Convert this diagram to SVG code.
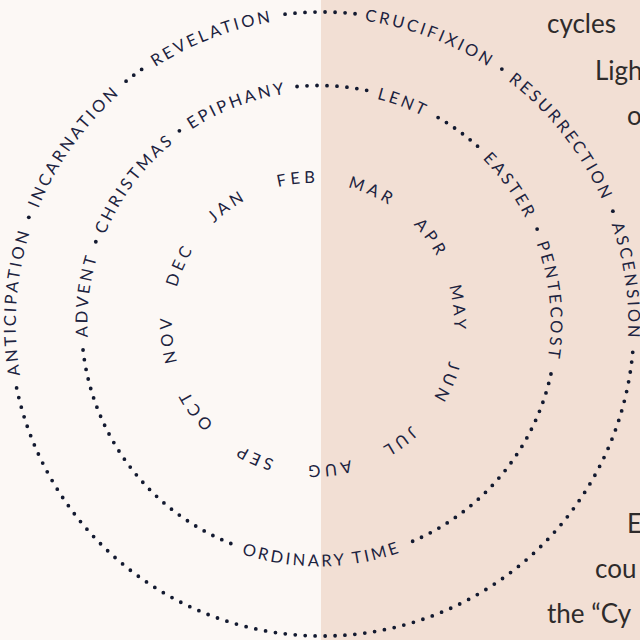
<svg xmlns="http://www.w3.org/2000/svg" xmlns:xlink="http://www.w3.org/1999/xlink" width="640" height="640" viewBox="0 0 640 640">
  <defs>
    <style>
      .lbl { font-family: Lato, "Open Sans", "Liberation Sans", sans-serif; font-size: 16.5px; fill: #1c2340; letter-spacing: 2.8px; }
      .mon { font-family: Lato, "Open Sans", "Liberation Sans", sans-serif; font-size: 16.5px; fill: #1c2340; letter-spacing: 3.8px; }
      .body { font-family: Lato, "Open Sans", "Liberation Sans", sans-serif; font-size: 26px; fill: #2e2b2b; }
      .dots { fill: none; stroke: #131a30; stroke-width: 3.8; stroke-linecap: round; stroke-dasharray: 0 10; }
      .dot { fill: #131a30; }
    </style>
    <path id="pOuter" d="M322,17.9 A306.1,306.1 0 1,1 322,630.1 A306.1,306.1 0 1,1 322,17.9 A306.1,306.1 0 1,1 322,630.1 A306.1,306.1 0 1,1 322,17.9"/>
    <path id="pInner" d="M319,91.4 A231.6,231.6 0 1,1 319,554.6 A231.6,231.6 0 1,1 319,91.4 A231.6,231.6 0 1,1 319,554.6 A231.6,231.6 0 1,1 319,91.4"/>
    <path id="pInnerCcw" d="M319,79.6 A243.4,243.4 0 1,0 319,566.4 A243.4,243.4 0 1,0 319,79.6"/>
    <path id="pMonth" d="M313,182.9 A141.1,141.1 0 1,1 313,465.1 A141.1,141.1 0 1,1 313,182.9 A141.1,141.1 0 1,1 313,465.1 A141.1,141.1 0 1,1 313,182.9"/>
  </defs>

  <rect id="bg-left" x="0" y="0" width="321" height="640" fill="#fcf8f5"/>
  <rect id="bg-right" x="321" y="0" width="319" height="640" fill="#f2dfd4"/>

  <g id="connectors">
    <path class="dots" pathLength="70.1" d="M285.06,14.18 A312,312 0 0,1 355.15,13.77"/>
    <circle class="dot" cx="501.85" cy="69.06" r="1.9"/>
    <circle class="dot" cx="612.89" cy="211.17" r="1.9"/>
    <path class="dots" pathLength="890.1" d="M632.72,352.28 A312,312 0 0,1 16.59,387.80"/>
    <circle class="dot" cx="28.82" cy="217.29" r="1.9"/>
    <path class="dots" pathLength="20.1" d="M126.08,81.19 A312,312 0 0,1 141.71,69.36"/>
    <path class="dots" pathLength="70.1" d="M297.06,86.52 A237.5,237.5 0 0,1 366.76,90.35"/>
    <path class="dots" pathLength="50.1" d="M438.11,117.53 A237.5,237.5 0 0,1 477.61,146.23"/>
    <circle class="dot" cx="537.13" cy="229.06" r="1.9"/>
    <path class="dots" pathLength="230.1" d="M550.96,374.0 A237.5,237.5 0 0,1 412.56,541.30"/>
    <path class="dots" pathLength="260.1" d="M230.80,543.52 A237.5,237.5 0 0,1 83.03,349.89"/>
    <circle class="dot" cx="95.82" cy="241.77" r="1.9"/>
    <circle class="dot" cx="179.40" cy="130.86" r="1.9"/>
  </g>

  <g id="outer-labels">
    <g id="revelation"><text class="lbl" text-anchor="middle"><textPath xlink:href="#pOuter" href="#pOuter" startOffset="47.076%">REVELATION</textPath></text></g>
    <g id="crucifixion"><text class="lbl" text-anchor="middle"><textPath xlink:href="#pOuter" href="#pOuter" startOffset="52.868%">CRUCIFIXION</textPath></text></g>
    <g id="resurrection"><text class="lbl" text-anchor="middle"><textPath xlink:href="#pOuter" href="#pOuter" startOffset="57.222%">RESURRECTION</textPath></text></g>
    <g id="ascension"><text class="lbl" text-anchor="middle"><textPath xlink:href="#pOuter" href="#pOuter" startOffset="61.389%">ASCENSION</textPath></text></g>
    <g id="anticipation"><text class="lbl" text-anchor="middle"><textPath xlink:href="#pOuter" href="#pOuter" startOffset="38.069%">ANTICIPATION</textPath></text></g>
    <g id="incarnation"><text class="lbl" text-anchor="middle"><textPath xlink:href="#pOuter" href="#pOuter" startOffset="42.4375%">INCARNATION</textPath></text></g>
  </g>

  <g id="inner-labels">
    <g id="epiphany"><text class="lbl" text-anchor="middle"><textPath xlink:href="#pInner" href="#pInner" startOffset="47.132%">EPIPHANY</textPath></text></g>
    <g id="lent"><text class="lbl" text-anchor="middle"><textPath xlink:href="#pInner" href="#pInner" startOffset="52.896%">LENT</textPath></text></g>
    <g id="easter"><text class="lbl" text-anchor="middle"><textPath xlink:href="#pInner" href="#pInner" startOffset="57.542%">EASTER</textPath></text></g>
    <g id="pentecost"><text class="lbl" text-anchor="middle"><textPath xlink:href="#pInner" href="#pInner" startOffset="61.743%">PENTECOST</textPath></text></g>
    <g id="advent"><text class="lbl" text-anchor="middle"><textPath xlink:href="#pInner" href="#pInner" startOffset="38.4375%">ADVENT</textPath></text></g>
    <g id="christmas"><text class="lbl" text-anchor="middle"><textPath xlink:href="#pInner" href="#pInner" startOffset="42.639%">CHRISTMAS</textPath></text></g>
    <g id="ordinary-time"><text class="lbl" text-anchor="middle"><textPath xlink:href="#pInnerCcw" href="#pInnerCcw" startOffset="50.194%">ORDINARY TIME</textPath></text></g>
  </g>

  <g id="months">
    <g id="jan"><text class="mon" text-anchor="middle"><textPath xlink:href="#pMonth" href="#pMonth" startOffset="45%">JAN</textPath></text></g>
    <g id="feb"><text class="mon" text-anchor="middle"><textPath xlink:href="#pMonth" href="#pMonth" startOffset="49.167%">FEB</textPath></text></g>
    <g id="mar"><text class="mon" text-anchor="middle"><textPath xlink:href="#pMonth" href="#pMonth" startOffset="53.333%">MAR</textPath></text></g>
    <g id="apr"><text class="mon" text-anchor="middle"><textPath xlink:href="#pMonth" href="#pMonth" startOffset="57.5%">APR</textPath></text></g>
    <g id="may"><text class="mon" text-anchor="middle"><textPath xlink:href="#pMonth" href="#pMonth" startOffset="61.667%">MAY</textPath></text></g>
    <g id="jun"><text class="mon" text-anchor="middle"><textPath xlink:href="#pMonth" href="#pMonth" startOffset="65.833%">JUN</textPath></text></g>
    <g id="jul"><text class="mon" text-anchor="middle"><textPath xlink:href="#pMonth" href="#pMonth" startOffset="70%">JUL</textPath></text></g>
    <g id="aug"><text class="mon" text-anchor="middle"><textPath xlink:href="#pMonth" href="#pMonth" startOffset="74.167%">AUG</textPath></text></g>
    <g id="sep"><text class="mon" text-anchor="middle"><textPath xlink:href="#pMonth" href="#pMonth" startOffset="78.333%">SEP</textPath></text></g>
    <g id="oct"><text class="mon" text-anchor="middle"><textPath xlink:href="#pMonth" href="#pMonth" startOffset="82.5%">OCT</textPath></text></g>
    <g id="nov"><text class="mon" text-anchor="middle"><textPath xlink:href="#pMonth" href="#pMonth" startOffset="86.667%">NOV</textPath></text></g>
    <g id="dec"><text class="mon" text-anchor="middle"><textPath xlink:href="#pMonth" href="#pMonth" startOffset="90.833%">DEC</textPath></text></g>
  </g>

  <g id="side-text">
    <text class="body" x="547" y="33">cycles</text>
    <text class="body" x="595" y="80">Ligh</text>
    <text class="body" x="627" y="125">o</text>
    <text class="body" x="627" y="533">E</text>
    <text class="body" x="595" y="578">cou</text>
    <text class="body" x="547" y="623">the “Cy</text>
  </g>
</svg>
